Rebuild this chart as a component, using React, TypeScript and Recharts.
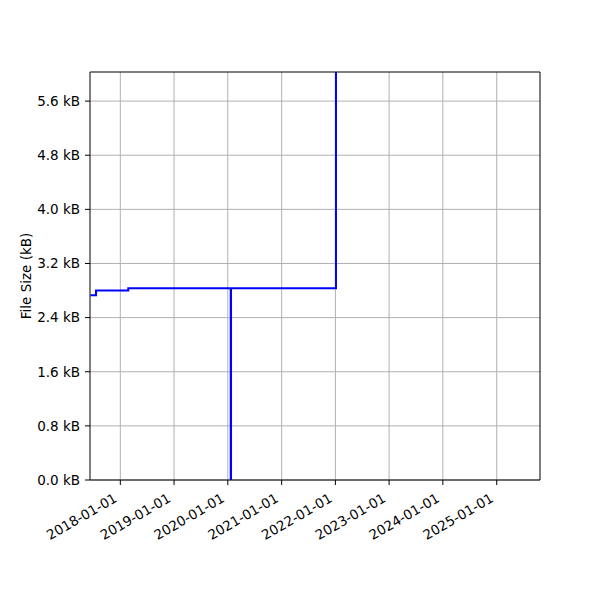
import React from "react";
import { LineChart, Line, XAxis, YAxis, CartesianGrid, ReferenceLine } from "recharts";

const day = (y: number, m: number, d: number) => Date.UTC(y, m - 1, d);

// file size history (kB), drawn as a post-step line
const dates = [
  day(2017, 6, 12),
  day(2017, 7, 20),
  day(2018, 2, 24),
  day(2020, 1, 21),
  day(2020, 1, 23),
  day(2022, 1, 5),
  day(2025, 6, 1),
];
const sizes = [2.73, 2.8, 2.833, 0, 2.833, 8.4, 8.4];

const xTicks = [2018, 2019, 2020, 2021, 2022, 2023, 2024, 2025].map((y) => day(y, 1, 1));
const yTicks = [0, 0.8, 1.6, 2.4, 3.2, 4.0, 4.8, 5.6];
const xDomain = [day(2017, 6, 9), day(2025, 10, 22)];
const yDomain = [0, 6.03];

const data = dates.map((t, i) => ({ t, size: sizes[i] }));

const FONT = "DejaVu Sans, sans-serif";
const FS = 13.5;

const fmtDate = (v: number) => new Date(v).toISOString().slice(0, 10);

const DateTick = (props: any) => {
  const { x, y, payload } = props;
  // matplotlib puts the rotated bbox's top-right corner at the tick
  const tx = x - 7.5;
  const ty = y + 2;
  return (
    <text
      x={tx}
      y={ty}
      transform={`rotate(-30, ${tx}, ${ty})`}
      textAnchor="end"
      dominantBaseline="hanging"
      fontSize={FS}
      fontFamily={FONT}
      fill="#000"
    >
      {fmtDate(payload.value)}
    </text>
  );
};

const YLabel = (props: any) => {
  const { viewBox } = props;
  const cx = 26;
  const cy = viewBox.y + viewBox.height / 2;
  return (
    <text
      x={cx}
      y={cy}
      transform={`rotate(-90, ${cx}, ${cy})`}
      textAnchor="middle"
      dominantBaseline="central"
      fontSize={FS}
      fontFamily={FONT}
      fill="#000"
    >
      File Size (kB)
    </text>
  );
};

export default function App() {
  return (
    <div style={{ position: "absolute", left: 0, top: 0, width: 600, height: 600, background: "#fff" }}>
      <LineChart width={600} height={600} data={data} margin={{ top: 72, right: 60, left: 10, bottom: 0 }}>
        <CartesianGrid stroke="#b0b0b0" strokeWidth={1} verticalValues={xTicks} horizontalValues={yTicks} />
        <XAxis
          dataKey="t"
          type="number"
          scale="linear"
          domain={xDomain}
          ticks={xTicks}
          allowDataOverflow
          height={120}
          tick={<DateTick />}
          tickSize={5}
          tickMargin={5}
          interval={0}
          stroke="#000"
          tickLine={{ stroke: "#000" }}
          axisLine={{ stroke: "#000" }}
        />
        <YAxis
          type="number"
          domain={yDomain}
          ticks={yTicks}
          allowDataOverflow
          width={80}
          tickSize={5}
          tickMargin={5}
          interval={0}
          tickFormatter={(v: number) => `${v.toFixed(1)} kB`}
          tick={{ fontSize: FS, fontFamily: FONT, fill: "#000" }}
          stroke="#000"
          tickLine={{ stroke: "#000" }}
          axisLine={{ stroke: "#000" }}
          label={<YLabel />}
        />
        <Line
          type="stepAfter"
          dataKey="size"
          stroke="#0000ff"
          strokeWidth={2}
          dot={false}
          activeDot={false}
          isAnimationActive={false}
        />
        {/* top and right spines */}
        <ReferenceLine y={yDomain[1]} stroke="#000" strokeWidth={1} ifOverflow="visible" />
        <ReferenceLine x={xDomain[1]} stroke="#000" strokeWidth={1} ifOverflow="visible" />
      </LineChart>
    </div>
  );
}
